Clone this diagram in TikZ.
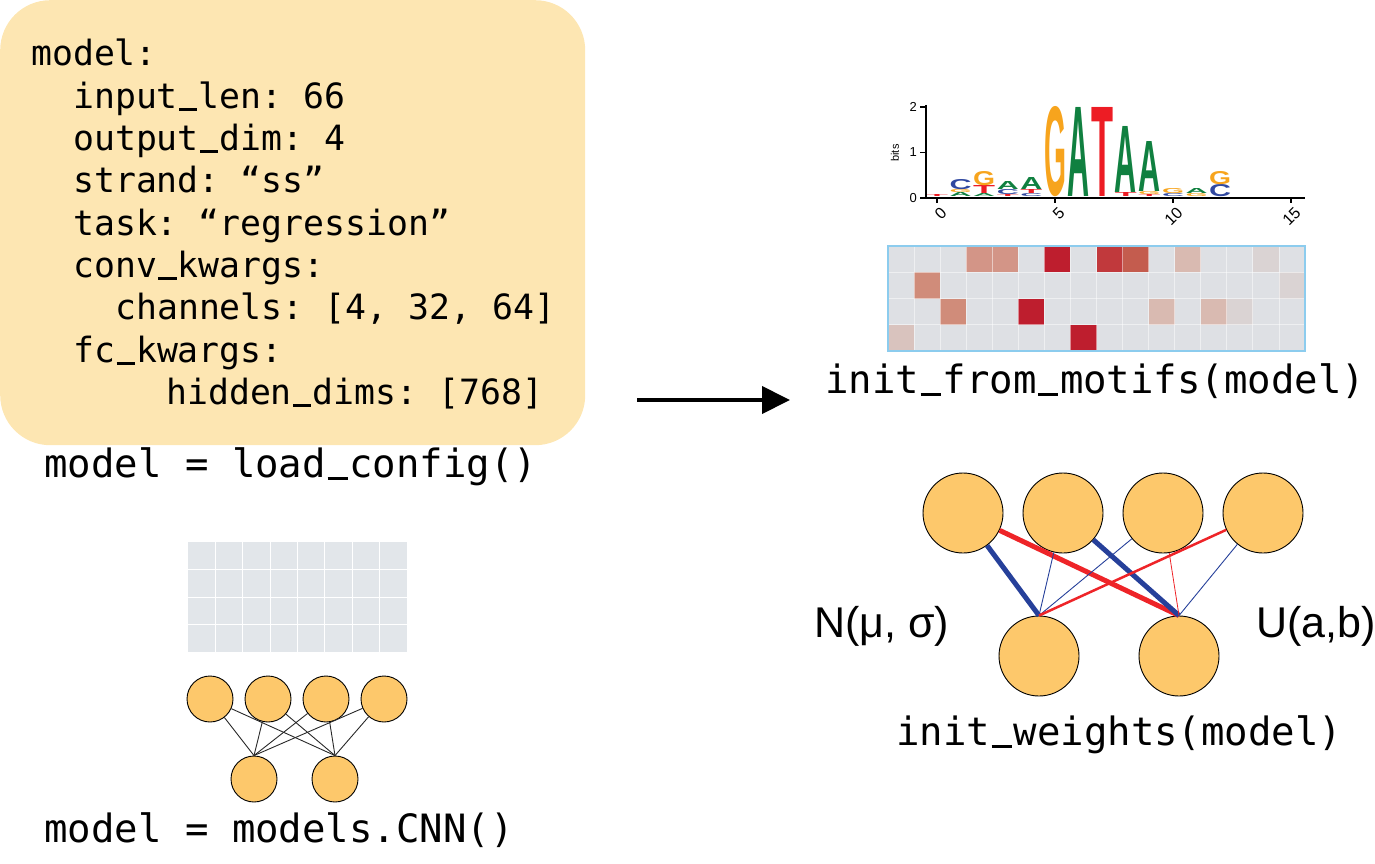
\documentclass[tikz,border=0pt]{standalone}
\usepackage{fontspec}
\setmainfont{Liberation Sans}
\setmonofont{DejaVu Sans Mono}
\usepackage{graphicx}
\usetikzlibrary{arrows.meta}
\definecolor{boxfill}{RGB}{253,230,178}
\definecolor{neuronfill}{RGB}{253,200,107}
\definecolor{netblue}{RGB}{38,64,154}
\definecolor{netred}{RGB}{238,36,40}
\definecolor{logoA}{RGB}{16,128,64}
\definecolor{logoC}{RGB}{48,72,160}
\definecolor{logoG}{RGB}{247,164,29}
\definecolor{logoT}{RGB}{237,28,36}
\definecolor{hbg}{RGB}{222,224,228}
\definecolor{gbg}{RGB}{226,230,234}
\definecolor{hborder}{RGB}{140,204,238}
\definecolor{hdark}{RGB}{190,30,46}
\definecolor{hred}{RGB}{193,57,60}
\definecolor{hredb}{RGB}{196,92,78}
\definecolor{hsalmon}{RGB}{211,149,135}
\definecolor{hsalmonb}{RGB}{208,140,122}
\definecolor{hpink}{RGB}{217,186,177}
\definecolor{hpinkb}{RGB}{217,195,190}
\definecolor{hfaint}{RGB}{218,211,211}
\newcounter{lgc}
\newcommand{\lgl}[5]{\stepcounter{lgc}\node[inner sep=0, anchor=south, text=#5] (lg\arabic{lgc}) at (#1,#2) {\resizebox{22pt}{#3pt}{\bfseries #4}};}
\newcommand{\hcell}[3]{\fill[#3] ({888+#1*26.0625},{246+#2*26.25}) rectangle ++(26.0625,26.25);}
\newcommand{\us}{\makebox[0.6021em][c]{\rule[-0.07em]{0.52em}{0.075em}}}
\begin{document}
\begin{tikzpicture}[x=1pt,y=-1pt,
  code/.style={font=\fontsize{34.8}{40}\selectfont\ttfamily, anchor=base west, inner sep=0},
  lbl/.style={font=\fontsize{39}{44}\selectfont\ttfamily, anchor=base west, inner sep=0},
  dist/.style={font=\fontsize{43}{48}\selectfont, anchor=base west, inner sep=0},
  neuron/.style={circle, draw=black, line width=0.9pt, fill=neuronfill, inner sep=0, minimum size=#1},
  small/.style={font=\fontsize{13}{15}\selectfont, inner sep=0},
  thinedge/.style={line width=0.9pt, draw={rgb,255:red,40;green,40;blue,40}}]
\useasboundingbox (0,0) rectangle (1375,864);

% config box
\node[name=cfgbox, rectangle, rounded corners=50pt, fill=boxfill, minimum width=585pt, minimum height=445pt, anchor=north west, inner sep=0] at (0,0) {};
\node[code] (c1) at (31,66) {model:};
\node[code] (c2) at (73,108.3) {input\us len: 66};
\node[code] (c3) at (73,150.6) {output\us dim: 4};
\node[code] (c4) at (73,192.9) {strand: “ss”};
\node[code] (c5) at (73,235.2) {task: “regression”};
\node[code] (c6) at (73,277.5) {conv\us kwargs:};
\node[code] (c7) at (115,319.8) {channels: [4, 32, 64]};
\node[code] (c8) at (73,362.1) {fc\us kwargs:};
\node[code] (c9) at (166,404.4) {hidden\us dims: [768]};
\node[lbl] (loadcfg) at (44,477) {model = load\us config()};

% empty grid
\fill[gbg] (188,542) rectangle (407,652);
\foreach \i in {1,...,7} \draw[white, line width=0.8pt] ({188+\i*27.375},542) -- ({188+\i*27.375},652);
\foreach \j in {1,2,3} \draw[white, line width=0.8pt] (188,{542+\j*27.5}) -- (407,{542+\j*27.5});

% small network
\node[neuron=46pt] (s1) at (210,699) {};
\node[neuron=46pt] (s2) at (268,699) {};
\node[neuron=46pt] (s3) at (326,699) {};
\node[neuron=46pt] (s4) at (384,699) {};
\node[neuron=46pt] (sb1) at (254,779) {};
\node[neuron=46pt] (sb2) at (335,779) {};
\foreach \t in {s1,s2,s3,s4} {
  \draw[thinedge] (\t) -- (sb1.north);
  \draw[thinedge] (\t) -- (sb2.north);
}
\node[lbl] (cnn) at (44,842) {model = models.CNN()};

% arrow
\coordinate (arrS) at (637,400);
\coordinate (arrE) at (790,400);
\draw[line width=4pt, -{Triangle[length=28pt,width=27pt]}] (arrS) -- (arrE);

% sequence logo
\lgl{937}{197}{2}{T}{logoT}
\lgl{960.6}{197}{4}{A}{logoA}
\lgl{960.6}{193}{3}{G}{logoG}
\lgl{960.6}{190}{10}{C}{logoC}
\lgl{984.2}{197}{3}{A}{logoA}
\lgl{984.2}{194}{8}{T}{logoT}
\lgl{984.2}{186}{14}{G}{logoG}
\lgl{1007.8}{197}{2}{T}{logoT}
\lgl{1007.8}{195}{5}{C}{logoC}
\lgl{1007.8}{190}{8}{A}{logoA}
\lgl{1031.4}{197}{3}{C}{logoC}
\lgl{1031.4}{194}{4}{T}{logoT}
\lgl{1031.4}{190}{12}{A}{logoA}
\lgl{1055}{197}{89}{G}{logoG}
\lgl{1078.6}{197}{89}{A}{logoA}
\lgl{1102.2}{197}{89}{T}{logoT}
\lgl{1125.8}{197}{4}{T}{logoT}
\lgl{1125.8}{193}{66}{A}{logoA}
\lgl{1149.4}{197}{2}{T}{logoT}
\lgl{1149.4}{195}{3}{G}{logoG}
\lgl{1149.4}{192}{50}{A}{logoA}
\lgl{1173}{197}{3}{C}{logoC}
\lgl{1173}{194}{5}{G}{logoG}
\lgl{1196.6}{197}{3}{G}{logoG}
\lgl{1196.6}{194}{5}{A}{logoA}
\lgl{1220.2}{197}{12}{C}{logoC}
\lgl{1220.2}{185}{13}{G}{logoG}
\draw[line width=2pt] (926,105) -- (926,198) -- (1305,198);
\foreach \yy/\lab in {107/2,152.5/1,198/0} {
  \draw[line width=1.5pt] (920,\yy) -- (926,\yy);
  \node[small, anchor=east] (yt\lab) at (917,\yy) {\lab};
}
\node[small, rotate=90, font=\fontsize{11}{13}\selectfont] (bits) at (895,153) {bits};
\foreach \xx/\lab in {937/0,1055/5,1173/10,1291/15} {
  \draw[line width=1.5pt] (\xx,198) -- (\xx,203);
  \node[small, anchor=east, rotate=45, font=\fontsize{16}{18}\selectfont] (xt\lab) at ({\xx+7},210) {\lab};
}

% heatmap
\fill[hbg] (888,246) rectangle (1305,351);
\hcell{3}{0}{hsalmon}\hcell{4}{0}{hsalmon}\hcell{6}{0}{hdark}\hcell{8}{0}{hred}\hcell{9}{0}{hredb}\hcell{11}{0}{hpink}\hcell{14}{0}{hfaint}
\hcell{1}{1}{hsalmonb}\hcell{15}{1}{hfaint}
\hcell{2}{2}{hsalmonb}\hcell{5}{2}{hdark}\hcell{10}{2}{hpink}\hcell{12}{2}{hpink}\hcell{13}{2}{hfaint}
\hcell{0}{3}{hpinkb}\hcell{7}{3}{hdark}
\foreach \i in {1,...,15} \draw[white, opacity=0.5, line width=0.8pt] ({888+\i*26.0625},246) -- ({888+\i*26.0625},351);
\foreach \j in {1,2,3} \draw[white, opacity=0.5, line width=0.8pt] (888,{246+\j*26.25}) -- (1305,{246+\j*26.25});
\draw[hborder, line width=1.5pt] (888,246) rectangle (1305,351);
\node[lbl] (motifs) at (825,393) {init\us from\us motifs(model)};

% big network
\node[neuron=80pt] (t1) at (963,513) {};
\node[neuron=80pt] (t2) at (1063,513) {};
\node[neuron=80pt] (t3) at (1163,513) {};
\node[neuron=80pt] (t4) at (1263,513) {};
\node[neuron=80pt] (b1) at (1039,656) {};
\node[neuron=80pt] (b2) at (1179,656) {};
\draw[netblue, line width=5pt] (t1) -- (b1.north);
\draw[netred, line width=5pt] (t1) -- (b2.north);
\draw[netblue, line width=0.9pt] (t2) -- (b1.north);
\draw[netblue, line width=5pt] (t2) -- (b2.north);
\draw[netblue, line width=0.9pt] (t3) -- (b1.north);
\draw[netred, line width=0.8pt] (t3) -- (b2.north);
\draw[netred, line width=2.5pt] (t4) -- (b1.north);
\draw[netblue, line width=0.9pt] (t4) -- (b2.north);
\node[dist] (normal) at (814,637) {N(μ, σ)};
\node[dist] (uniform) at (1256,637) {U(a,b)};
\node[lbl] (weights) at (896,745) {init\us weights(model)};
\end{tikzpicture}
\end{document}
